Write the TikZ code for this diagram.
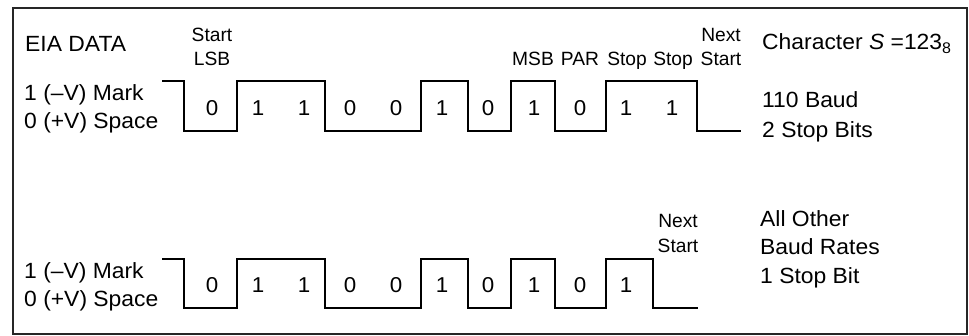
\documentclass[tikz,border=0pt]{standalone}
\usepackage{fontspec}
\setmainfont{Liberation Sans}
\newfontfamily\widefont{Liberation Sans}[FakeStretch=1.04]
\usetikzlibrary{positioning}

\begin{document}
\begin{tikzpicture}[x=1pt, y=-1pt,
    lbl/.style={inner sep=0pt, anchor=base west, font=\widefont\fontsize{22}{26}\selectfont},
    bitname/.style={inner sep=0pt, anchor=base, font=\fontsize{19.2}{22}\selectfont},
    bitval/.style={inner sep=0pt, anchor=base, font=\widefont\fontsize{21.5}{24}\selectfont},
    wave/.style={line width=2.4pt, line join=miter}]
  \useasboundingbox (0,0) rectangle (969,336);
  \draw[line width=1.8pt, black!85] (13,8) rectangle (967,334);

  % left side labels
  \node[lbl] (eia) at (25,52) {EIA DATA};
  \node[lbl] (marka) at (24,101) {1 (–V) Mark};
  \node[lbl] (spacea) at (24,128.5) {0 (+V) Space};
  \node[lbl] (markb) at (24,278.5) {1 (–V) Mark};
  \node[lbl] (spaceb) at (24,307) {0 (+V) Space};

  % names of the bits
  \foreach \x/\y/\lab/\nm in {212/42/Start/st, 212/66/LSB/lsb, 533/66/MSB/msb, 580/66/PAR/par,
      627/66/Stop/stopa, 673/66/Stop/stopb, 721/42/Next/nxa, 721/66/Start/nxb,
      678/228/Next/nxc, 678/253/Start/nxd}
    \node[bitname] (\nm) at (\x,\y) {\lab};

  % right side labels
  \node[lbl] (char) at (762,50) {Character \textit{S} =123\textsubscript{8}};
  \node[lbl] (baud) at (762,107.5) {110 Baud};
  \node[lbl] (twostop) at (762,137.5) {2 Stop Bits};
  \node[lbl] (other) at (760,227) {All Other};
  \node[lbl] (rates) at (760,255) {Baud Rates};
  \node[lbl] (onestop) at (760,283.5) {1 Stop Bit};

  % waveforms
  \draw[wave] (162,81) -| (184,131) -| (237,81) -| (325,131) -| (421,81) -| (468,131)
    -| (511,81) -| (555,131) -| (606,81) -| (697,131) -- (741,131);
  \draw[wave] (162,259) -| (184,308) -| (237,259) -| (325,308) -| (421,259) -| (468,308)
    -| (511,259) -| (555,308) -| (606,259) -| (653,308) -- (698,308);

  \foreach \v [count=\i from 0] in {0,1,1,0,0,1,0,1,0,1,1}
    \node[bitval] (ta\i) at (212+46*\i,116) {\v};
  \foreach \v [count=\i from 0] in {0,1,1,0,0,1,0,1,0,1}
    \node[bitval] (tb\i) at (212+46*\i,293) {\v};
\end{tikzpicture}
\end{document}
